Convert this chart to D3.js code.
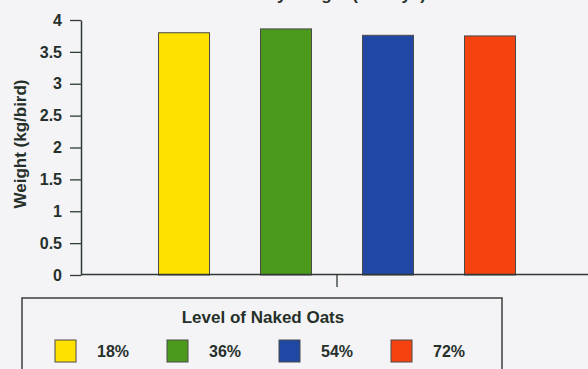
<!DOCTYPE html>
<html>
<head>
<meta charset="utf-8">
<script src="https://cdn.jsdelivr.net/npm/d3@7"></script>
<style>
html,body{margin:0;padding:0;background:#f4f3f6;}
svg{display:block;}
text{font-family:"Liberation Sans",Arial,sans-serif;fill:#26302a;}
</style>
</head>
<body>
<svg id="chart" width="588" height="369"></svg>
<script>
const groups = ["All"];
const series = ["18%", "36%", "54%", "72%"];
const values = [3.80, 3.86, 3.76, 3.75];
const colors = ["#ffe100", "#4b9a1c", "#1f47a3", "#f5430f"];
const yTicks = [0, 0.5, 1, 1.5, 2, 2.5, 3, 3.5, 4];
const titleText = "Body Weight (42 days)";
const yLabel = "Weight (kg/bird)";
const legendTitle = "Level of Naked Oats";

const svg = d3.select("#chart");
const axisColor = "#2f3a34";

const y = d3.scaleLinear().domain([0, 4]).range([275, 20]);
const x0 = d3.scaleBand().domain(groups).range([81, 593]);
const x1 = d3.scaleBand().domain(series).range([0, x0.bandwidth()])
  .paddingInner(0.5).paddingOuter(0.76);

// clipped title (only descenders visible, as in the reference)
svg.append("text").attr("x", 335).attr("y", 0)
  .attr("text-anchor", "middle").attr("font-size", 17).attr("font-weight", "bold")
  .text(titleText);

// bars
const g = svg.append("g").attr("transform", `translate(${x0(groups[0])},0)`);
g.selectAll("rect").data(series).join("rect")
  .attr("x", d => x1(d))
  .attr("y", (d, i) => y(values[i]))
  .attr("width", x1.bandwidth())
  .attr("height", (d, i) => y(0) - y(values[i]))
  .attr("fill", (d, i) => colors[i])
  .attr("stroke", "#4a4a4a").attr("stroke-width", 1);

// y axis
const ya = svg.append("g").attr("transform", "translate(81,0)")
  .call(d3.axisLeft(y).tickValues(yTicks).tickSize(11).tickSizeOuter(0).tickPadding(8)
    .tickFormat(d3.format("~g")));
ya.select(".domain").attr("stroke", axisColor).attr("stroke-width", 1.5);
ya.selectAll(".tick line").attr("stroke", axisColor).attr("stroke-width", 1.3);
ya.selectAll(".tick text").attr("font-size", 16).attr("font-weight", "bold")
  .attr("font-family", "Liberation Sans, Arial, sans-serif").attr("fill", "#26302a");

// x axis
const xa = svg.append("g").attr("transform", "translate(0,274)")
  .call(d3.axisBottom(x0).tickSize(13).tickSizeOuter(0).tickFormat(""));
xa.select(".domain").attr("stroke", axisColor).attr("stroke-width", 1.5);
xa.selectAll(".tick line").attr("stroke", axisColor).attr("stroke-width", 1.3);

// y label
svg.append("text").attr("transform", "translate(26,144) rotate(-90)")
  .attr("text-anchor", "middle").attr("font-size", 17).attr("font-weight", "bold")
  .text(yLabel);

// legend
const lg = svg.append("g");
lg.append("rect").attr("x", 22).attr("y", 298).attr("width", 480).attr("height", 90)
  .attr("fill", "none").attr("stroke", "#3c3f3d").attr("stroke-width", 1.5);
lg.append("text").attr("x", 263).attr("y", 323).attr("text-anchor", "middle")
  .attr("font-size", 17).attr("font-weight", "bold").text(legendTitle);
const lx = d3.scaleBand().domain(series).range([55, 503]);
const items = lg.selectAll("g.item").data(series).join("g").attr("class", "item")
  .attr("transform", d => `translate(${lx(d)},340)`);
items.append("rect").attr("width", 21).attr("height", 22)
  .attr("fill", (d, i) => colors[i]).attr("stroke", "#4a4a4a").attr("stroke-width", 1);
items.append("text").attr("x", 42).attr("y", 17).attr("font-size", 16)
  .attr("font-weight", "bold").text(d => d);
</script>
</body>
</html>
